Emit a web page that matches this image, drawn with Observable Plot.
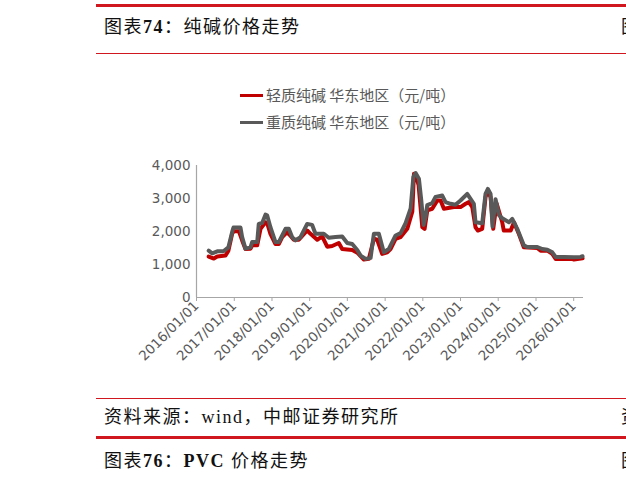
<!DOCTYPE html>
<html>
<head>
<meta charset="utf-8">
<script src="https://cdn.jsdelivr.net/npm/d3@7"></script>
<script src="https://cdn.jsdelivr.net/npm/@observablehq/plot@0.6"></script>
<style>
  html, body { margin: 0; padding: 0; background: #fff; }
  #page { position: relative; width: 626px; height: 480px; overflow: hidden; background: #fff; }
  .rule { position: absolute; left: 96px; right: 0; background: #d0161e; }
  .hdr { position: absolute; left: 104px; font-family: "Liberation Serif", "Noto Sans CJK SC", serif; font-size: 18px; letter-spacing: 1.5px; color: #111; white-space: nowrap; line-height: 1; }
  .hdr b { font-weight: bold; }
  .cut { position: absolute; left: 621px; font-family: "Liberation Serif", "Noto Sans CJK SC", serif; font-size: 18px; color: #111; white-space: nowrap; line-height: 1; }
  .leg { position: absolute; left: 240px; font-family: "Noto Sans CJK SC", sans-serif; font-size: 15px; color: #595959; white-space: nowrap; line-height: 1; }
  .sw { position: absolute; left: 0; width: 23px; height: 3px; top: 7px; }
  .lt { position: absolute; left: 26px; top: 0; }
  #chart { position: absolute; left: 0; top: 140px; }
</style>
</head>
<body>
<div id="page">
  <div class="rule" style="top:4px;height:3px;"></div>
  <div class="hdr" style="top:18px;">图表<b>74</b>：纯碱价格走势</div>
  <div class="cut" style="top:18px;">图</div>
  <div class="rule" style="top:53px;height:1px;"></div>

  <div class="leg" style="top:87px;"><div class="sw" style="background:#c00000"></div><div class="lt" id="l1"></div></div>
  <div class="leg" style="top:114px;"><div class="sw" style="background:#595959"></div><div class="lt" id="l2"></div></div>

  <div id="chart"></div>

  <div class="rule" style="top:398px;height:1px;"></div>
  <div class="hdr" style="top:408px;">资料来源：wind，中邮证券研究所</div>
  <div class="cut" style="top:408px;">资</div>
  <div class="rule" style="top:436px;height:3px;"></div>
  <div class="hdr" style="top:452px;">图表<b>76</b>：<b>PVC</b> 价格走势</div>
  <div class="cut" style="top:452px;">图</div>
</div>
<script>
const seriesNames = ["轻质纯碱 华东地区（元/吨）", "重质纯碱 华东地区（元/吨）"];
const seriesColors = ["#c00000", "#595959"];

const lightDates = ["2016-04-28","2016-06-17","2016-07-20","2016-10-08","2016-11-05","2016-12-11","2016-12-27","2017-02-14","2017-03-18","2017-04-19","2017-06-07","2017-06-23","2017-08-11","2017-09-12","2017-10-30","2017-11-15","2017-12-17","2018-02-04","2018-03-08","2018-04-10","2018-05-28","2018-06-20","2018-07-31","2018-09-18","2018-12-08","2019-01-09","2019-03-15","2019-05-02","2019-06-20","2019-08-07","2019-10-10","2019-11-12","2020-02-17","2020-04-06","2020-06-09","2020-07-27","2020-09-14","2020-10-16","2020-12-03","2021-01-21","2021-02-22","2021-04-12","2021-05-31","2021-08-03","2021-09-21","2021-10-07","2021-10-27","2021-11-21","2021-12-27","2022-01-18","2022-02-13","2022-04-02","2022-05-21","2022-06-22","2022-07-24","2022-10-29","2023-01-01","2023-02-19","2023-03-23","2023-04-25","2023-05-26","2023-06-18","2023-07-30","2023-08-31","2023-09-23","2023-10-19","2023-11-14","2023-12-16","2024-02-09","2024-02-24","2024-05-01","2024-06-02","2024-07-16","2024-09-05","2025-01-14","2025-02-15","2025-04-21","2025-06-08","2025-07-10","2025-12-18","2026-01-03","2026-03-28"];
const lightValues = [1240,1180,1240,1270,1420,1930,2010,2010,1730,1470,1480,1580,1580,2080,2280,2260,1930,1620,1620,1830,1980,1900,1750,1750,2030,1930,1750,1850,1540,1560,1650,1470,1440,1360,1150,1170,1780,1750,1320,1370,1470,1780,1830,2080,2600,3750,3700,3400,2130,2080,2640,2690,2940,2940,2690,2740,2740,2840,2890,2740,2130,2030,2080,3040,3240,3040,2080,2850,2280,2030,2030,2280,1950,1520,1500,1420,1420,1320,1170,1170,1150,1190];

const heavyDates = ["2016-04-28","2016-06-01","2016-07-20","2016-09-18","2016-11-05","2016-12-11","2016-12-24","2017-03-02","2017-03-18","2017-04-19","2017-06-07","2017-06-23","2017-08-11","2017-08-26","2017-09-28","2017-10-30","2017-11-15","2017-12-17","2018-02-04","2018-03-08","2018-04-10","2018-05-12","2018-06-13","2018-07-15","2018-08-16","2018-10-04","2018-12-08","2019-01-25","2019-02-26","2019-05-18","2019-07-05","2019-09-08","2019-11-12","2019-12-31","2020-02-17","2020-04-06","2020-05-08","2020-06-26","2020-08-13","2020-09-14","2020-11-01","2020-12-19","2021-02-06","2021-04-12","2021-05-31","2021-07-18","2021-09-05","2021-10-01","2021-10-23","2021-11-24","2021-12-17","2022-01-08","2022-01-27","2022-02-13","2022-04-02","2022-05-04","2022-07-08","2022-08-09","2022-09-26","2022-11-13","2023-01-01","2023-03-07","2023-04-08","2023-05-10","2023-05-26","2023-07-30","2023-08-31","2023-09-23","2023-10-19","2023-11-07","2023-12-06","2024-01-08","2024-02-09","2024-04-14","2024-05-16","2024-07-03","2024-08-04","2024-09-05","2024-10-08","2025-01-14","2025-03-03","2025-04-21","2025-06-08","2025-07-10","2025-09-28","2026-01-03","2026-03-08","2026-03-28"];
const heavyValues = [1420,1340,1400,1400,1520,1980,2120,2120,1830,1480,1520,1680,1680,2230,2260,2510,2490,2130,1680,1680,1880,2080,2080,1830,1730,1830,2230,2200,1930,1930,1810,1830,1850,1650,1620,1440,1270,1170,1200,1930,1930,1370,1470,1880,1950,2250,2700,3650,3770,3600,2940,2200,2430,2800,2860,3050,3090,2890,2840,2810,2940,3140,2990,2840,2280,2250,3140,3290,3140,2150,2980,2500,2400,2280,2380,2080,1830,1580,1530,1530,1470,1450,1370,1230,1230,1220,1230,1250];

const yTicks = [0, 1000, 2000, 3000, 4000];
const xTickYears = [2016, 2017, 2018, 2019, 2020, 2021, 2022, 2023, 2024, 2025, 2026];
const xDomain = ["2016-01-01", "2026-04-06"];

document.getElementById("l1").textContent = seriesNames[0];
document.getElementById("l2").textContent = seriesNames[1];

const parse = d3.utcParse("%Y-%m-%d");
const light = lightDates.map((d, i) => ({date: parse(d), value: lightValues[i], series: seriesNames[0]}));
const heavy = heavyDates.map((d, i) => ({date: parse(d), value: heavyValues[i], series: seriesNames[1]}));
const xTicks = xTickYears.map(y => new Date(Date.UTC(y, 0, 1)));

const chart = Plot.plot({
  width: 626,
  height: 250,
  marginLeft: 196,
  marginRight: 43,
  marginTop: 25,
  marginBottom: 93,
  style: {fontFamily: "DejaVu Sans, sans-serif", fontSize: "13.5px", color: "#595959", background: "#fff"},
  x: {type: "utc", domain: xDomain.map(parse)},
  y: {domain: [0, 4000]},
  marks: [
    Plot.axisY({ticks: yTicks, tickSize: 0, tickPadding: 6, tickFormat: d3.format(","), label: null, fill: "#595959"}),
    Plot.axisX({ticks: xTicks, tickSize: 4, tickPadding: 2, tickRotate: -45, tickFormat: d3.utcFormat("%Y/%m/%d"), label: null, fill: "#595959", stroke: "#a6a6a6"}),
    Plot.ruleY([0], {stroke: "#a6a6a6", strokeWidth: 1.2}),
    Plot.ruleX([parse(xDomain[0])], {stroke: "#a6a6a6", strokeWidth: 1.2}),
    Plot.line(light, {x: "date", y: "value", stroke: seriesColors[0], strokeWidth: 4, curve: "linear"}),
    Plot.line(heavy, {x: "date", y: "value", stroke: seriesColors[1], strokeWidth: 4, curve: "linear"})
  ]
});
document.getElementById("chart").appendChild(chart);
</script>
</body>
</html>
